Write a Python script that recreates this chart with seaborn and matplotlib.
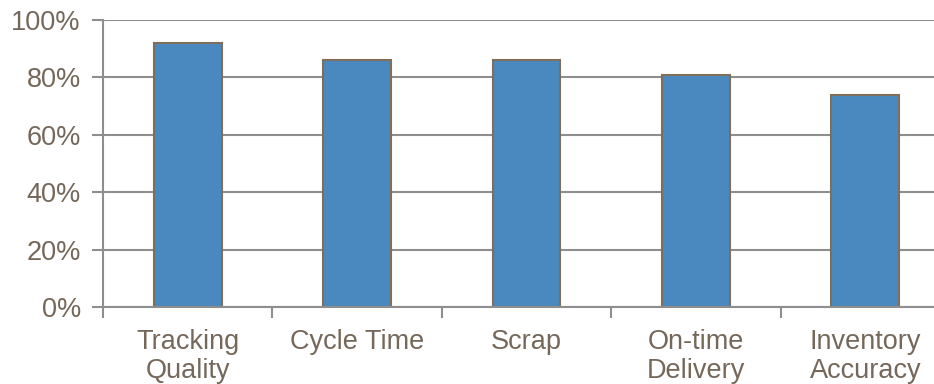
import matplotlib
matplotlib.use("Agg")
import matplotlib.pyplot as plt
import seaborn as sns
import pandas as pd
from matplotlib.ticker import FixedLocator, PercentFormatter

categories = ["Tracking\nQuality", "Cycle Time", "Scrap", "On-time\nDelivery", "Inventory\nAccuracy"]
values = [92, 86, 86, 81, 74]
y_ticks = [0, 20, 40, 60, 80, 100]

df = pd.DataFrame({"category": categories, "value": values})

sns.set_theme(style="white")
plt.rcParams["font.family"] = ["Liberation Sans", "DejaVu Sans"]

text_color = "#75685A"
grid_color = "#8E8E8E"
bar_color = "#4A89BF"
edge_color = "#7F6E5A"

fig = plt.figure(figsize=(9.34, 3.84), dpi=100)
# plot area runs slightly past the right edge of the canvas
ax = fig.add_axes([103 / 934, 1 - 307 / 384, (950 - 103) / 934, 287 / 384])

sns.barplot(data=df, x="category", y="value", color=bar_color, width=0.4,
            edgecolor=edge_color, linewidth=1.5, saturation=1, ax=ax, zorder=3)

ax.set_xlim(-0.5, 4.5)
ax.set_ylim(0, 100)
ax.set_yticks(y_ticks)
ax.yaxis.set_major_formatter(PercentFormatter(decimals=0))
ax.set_xlabel("")
ax.set_ylabel("")

ax.grid(axis="y", color=grid_color, linewidth=1.5, zorder=0)
ax.grid(axis="x", visible=False)

for side in ["top", "right"]:
    ax.spines[side].set_visible(False)
for side in ["left", "bottom"]:
    ax.spines[side].set_color(grid_color)
    ax.spines[side].set_linewidth(1.5)
    ax.spines[side].set_zorder(4)

ax.tick_params(axis="y", which="major", left=True, length=8, width=1.5,
               color=grid_color, pad=8, labelsize=19.5, labelcolor=text_color)
ax.tick_params(axis="x", which="major", bottom=False, length=0, pad=16,
               labelsize=19.5, labelcolor=text_color)
ax.xaxis.set_minor_locator(FixedLocator([-0.5, 0.5, 1.5, 2.5, 3.5, 4.5]))
ax.tick_params(axis="x", which="minor", bottom=True, length=8, width=1.5,
               color=grid_color)
for lbl in ax.get_xticklabels():
    lbl.set_linespacing(1.15)

fig.savefig("out.png", dpi=100, facecolor="white")
